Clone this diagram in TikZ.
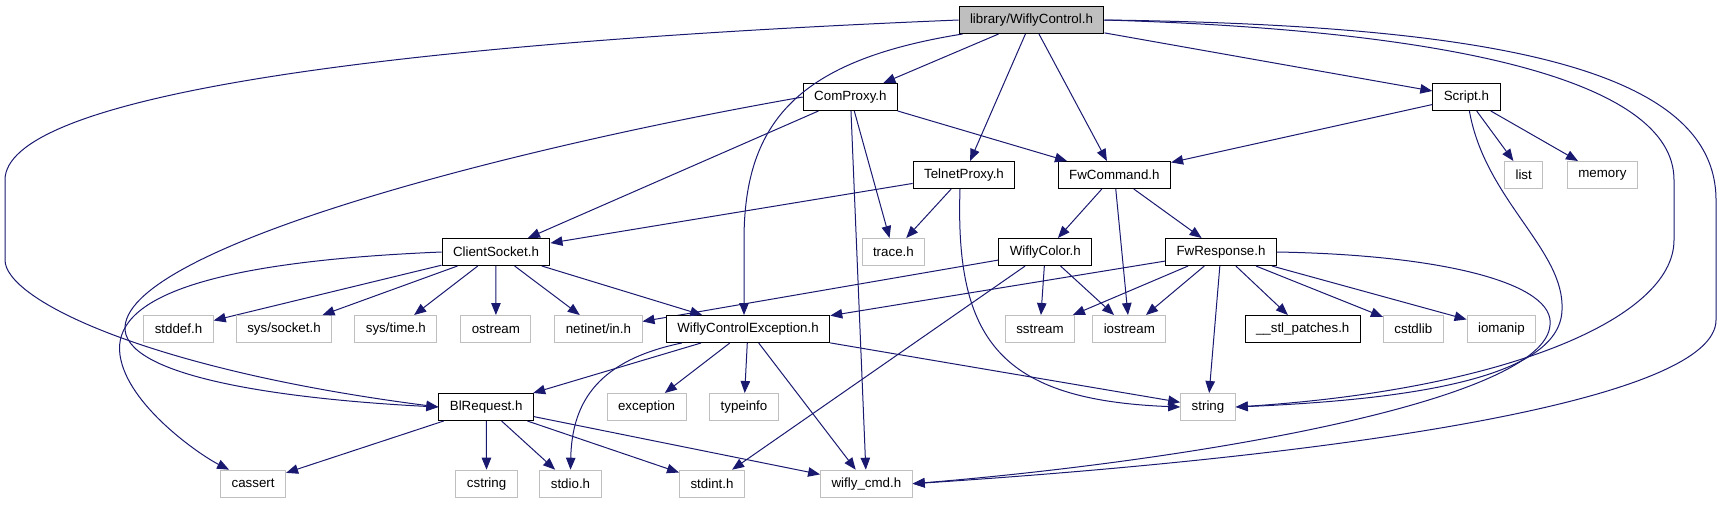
\documentclass[tikz,border=0pt]{standalone}
\usepackage{fontspec}
\setmainfont{Liberation Sans}
\usepackage{xcolor}
\usepackage{tikz}
\usetikzlibrary{arrows.meta}

\definecolor{edgeblue}{RGB}{25,25,112}
\definecolor{boxgray}{RGB}{191,191,191}

\begin{document}
\begin{tikzpicture}[
  x=1pt, y=-1pt,
  >={Triangle[length=12pt,width=9.5pt]},
  file/.style={rectangle, draw, line width=1pt, inner xsep=11pt, inner ysep=0pt, minimum height=27pt, font=\fontsize{13.33}{16}\selectfont},
  mainfile/.style={file, fill=boxgray},
  docfile/.style={file, fill=white},
  sysfile/.style={file, draw=boxgray, fill=white},
  dep/.style={->, draw=edgeblue, line width=1pt}
]
\useasboundingbox (0,0) rectangle (1731,504);

\node[mainfile] (wc) at (1031.5,20) {library/WiflyControl.h};

\node[docfile] (cp) at (850.4,97) {ComProxy.h};
\draw[dep] (wc) -- (cp);

\node[docfile] (scr) at (1466.4,97) {Script.h};
\draw[dep] (wc) -- (scr);

\node[docfile] (tp) at (964,175) {TelnetProxy.h};
\draw[dep] (wc) -- (tp);

\node[docfile] (fwc) at (1114.4,175) {FwCommand.h};
\draw[dep] (wc) -- (fwc);
\draw[dep] (cp) -- (fwc);
\draw[dep] (scr) -- (fwc);

\node[sysfile] (list) at (1523.7,175) {list};
\draw[dep] (scr) -- (list);

\node[sysfile] (mem) at (1602.4,175) {memory};
\draw[dep] (scr) -- (mem);

\node[docfile] (cs) at (496,252) {ClientSocket.h};
\draw[dep] (cp) -- (cs);
\draw[dep] (tp) -- (cs);

\node[sysfile] (trace) at (893.4,252) {trace.h};
\draw[dep] (cp) -- (trace);
\draw[dep] (tp) -- (trace);

\node[docfile] (wcol) at (1045.3,252) {WiflyColor.h};
\draw[dep] (fwc) -- (wcol);

\node[docfile] (fwr) at (1221,252) {FwResponse.h};
\draw[dep] (fwc) -- (fwr);

\node[sysfile] (stddef) at (178.5,329) {stddef.h};
\draw[dep] (cs) -- (stddef);

\node[sysfile] (socket) at (284,329) {sys/socket.h};
\draw[dep] (cs) -- (socket);

\node[sysfile] (time) at (395.9,329) {sys/time.h};
\draw[dep] (cs) -- (time);

\node[sysfile] (ostream) at (495.9,329) {ostream};
\draw[dep] (cs) -- (ostream);

\node[sysfile] (netin) at (598.4,329) {netinet/in.h};
\draw[dep] (cs) -- (netin);
\draw[dep] (wcol) -- (netin);

\node[docfile] (wce) at (748,329) {WiflyControlException.h};
\draw[dep] (cs) -- (wce);
\draw[dep] (fwr) -- (wce);
\draw[dep] ([xshift=4pt]wc.south west) .. controls (800,60) and (744,120) .. (744,240) -- ([xshift=-4pt]wce.north);

\node[sysfile] (sstream) at (1040,329) {sstream};
\draw[dep] (wcol) -- (sstream);
\draw[dep] (fwr) -- (sstream);

\node[sysfile] (iostream) at (1129.3,329) {iostream};
\draw[dep] (fwc) -- (iostream);
\draw[dep] (wcol) -- (iostream);
\draw[dep] (fwr) -- (iostream);

\node[docfile] (stl) at (1302.7,329) {\_\_stl\_patches.h};
\draw[dep] (fwr) -- (stl);

\node[sysfile] (cstdlib) at (1413.3,329) {cstdlib};
\draw[dep] (fwr) -- (cstdlib);

\node[sysfile] (iomanip) at (1501.4,329) {iomanip};
\draw[dep] (fwr) -- (iomanip);

\node[docfile] (blr) at (486.2,407) {BlRequest.h};
\draw[dep] (wce) -- (blr);
\draw[dep] (cp.west) .. controls (500,150) and (120,250) .. (125,330) .. controls (130,380) and (300,400) .. (blr.west);
\draw[dep] (wc.west) .. controls (350,45) and (5,100) .. (5,180) -- (5,260) .. controls (5,300) and (150,370) .. (blr.west);

\node[sysfile] (exception) at (646.6,407) {exception};
\draw[dep] (wce) -- (exception);

\node[sysfile] (typeinfo) at (744,407) {typeinfo};
\draw[dep] (wce) -- (typeinfo);

\node[sysfile] (string) at (1208,407) {string};
\draw[dep] (wce) -- (string);
\draw[dep] (fwr) -- (string);
\draw[dep] ([xshift=-4pt]tp.south) .. controls (955,340) and (1000,400) .. (string.west);
\draw[dep] ([xshift=3pt]scr.south) .. controls (1485,200) and (1565,250) .. (1562,310) .. controls (1560,380) and (1400,400) .. (string.east);
\draw[dep] (wc.east) .. controls (1450,30) and (1674,80) .. (1674,180) -- (1674,240) .. controls (1674,320) and (1500,390) .. (string.east);

\node[sysfile] (cassert) at (253.1,483.7) {cassert};
\draw[dep] (blr) -- (cassert);
\draw[dep] (cs.west) .. controls (200,262) and (112,300) .. (120,355) .. controls (127,405) and (200,455) .. ([xshift=-24pt]cassert.north);

\node[sysfile] (cstring) at (486.6,483.7) {cstring};
\draw[dep] (blr) -- (cstring);

\node[sysfile] (stdio) at (570.5,483.7) {stdio.h};
\draw[dep] (blr) -- (stdio);
\draw[dep] ([xshift=16pt]wce.south west) .. controls (600,360) and (572,400) .. (stdio.north);

\node[sysfile] (stdint) at (712,483.7) {stdint.h};
\draw[dep] (blr) -- (stdint);
\draw[dep] (wcol) -- (stdint);

\node[sysfile] (wcmd) at (866.4,483.7) {wifly\_cmd.h};
\draw[dep] (blr) -- (wcmd);
\draw[dep] (wce) -- (wcmd);
\draw[dep] (cp) -- (wcmd);
\draw[dep] (fwr.east) .. controls (1450,255) and (1555,285) .. (1550,325) .. controls (1545,400) and (1200,460) .. (wcmd.east);
\draw[dep] (wc.east) .. controls (1500,25) and (1716,70) .. (1716,200) -- (1716,320) .. controls (1716,400) and (1350,455) .. (wcmd.east);

\end{tikzpicture}
\end{document}
